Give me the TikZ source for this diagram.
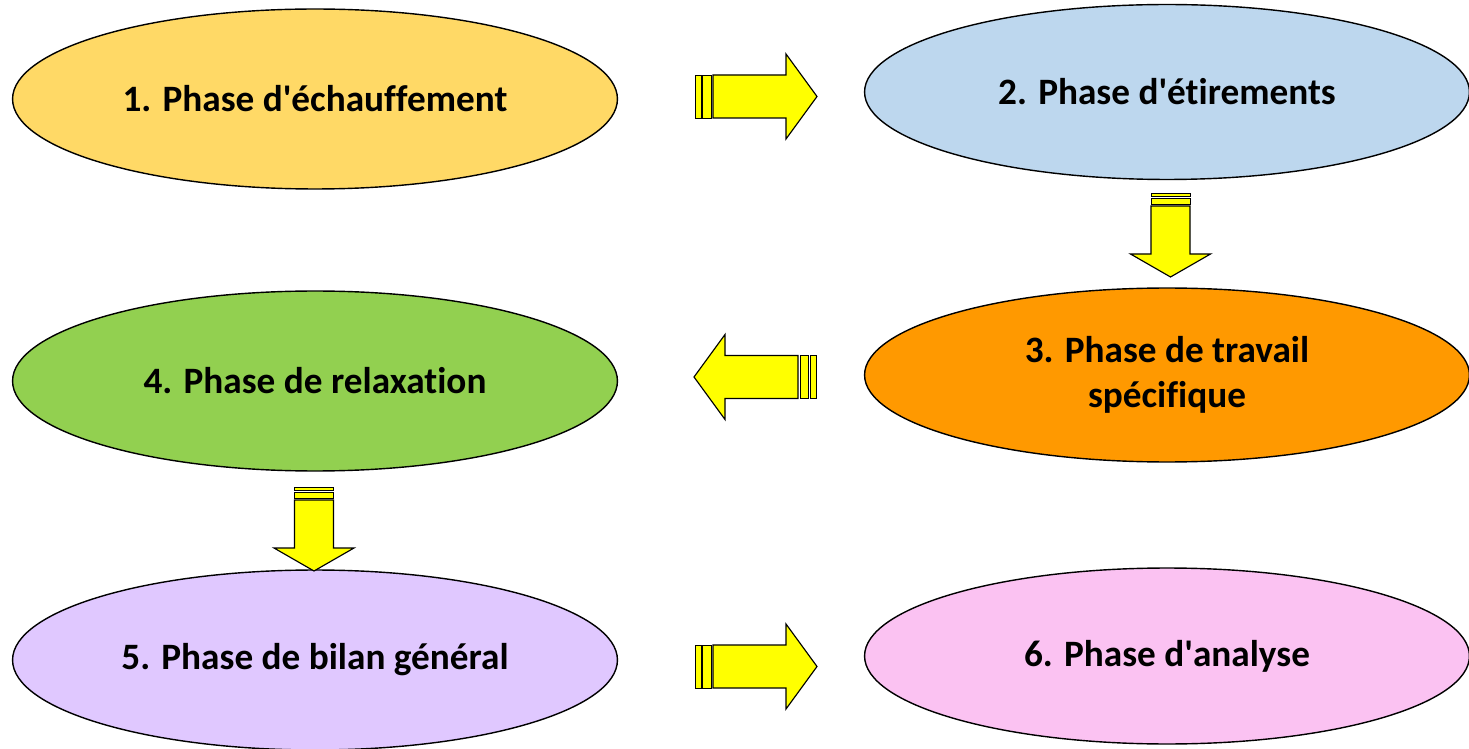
\documentclass[tikz,border=0pt]{standalone}
\usepackage{fontspec}
\setmainfont{Carlito}[Ligatures={NoCommon}]
\usepackage{tikz}
\usetikzlibrary{shapes.geometric}
\definecolor{warmup}{HTML}{FFD966}
\definecolor{stretch}{HTML}{BDD7EE}
\definecolor{work}{HTML}{FF9900}
\definecolor{relax}{HTML}{92D050}
\definecolor{review}{HTML}{E0C8FF}
\definecolor{analysis}{HTML}{FBC2F2}
\definecolor{arrowfill}{HTML}{FFFF00}
\tikzset{
  phase/.style={ellipse, draw=black, line width=0.8pt, inner sep=0pt,
    minimum width=12.1cm, minimum height=3.6cm, align=center,
    font=\fontsize{21.2}{26}\selectfont\bfseries},
  blockarrow/.style={draw=black, fill=arrowfill, line width=0.65pt, line join=miter},
  arrowbar/.style={blockarrow, line width=0.5pt}
}
% horizontal striped arrow: origin at tail, #3 = +1 right, -1 left
\newcommand{\ArrowH}[3]{%
  \begin{scope}[shift={(#1,#2)}, xscale=#3]
    \draw[arrowbar] (0,-21.5) rectangle (6,21.5);
    \draw[arrowbar] (7.5,-21.5) rectangle (16,21.5);
    \draw[blockarrow] (18,-21.5) -- (91,-21.5) -- (91,-42.5) -- (122,0)
      -- (91,42.5) -- (91,21.5) -- (18,21.5) -- cycle;
  \end{scope}
}
% vertical striped arrow: origin at top centre, pointing down
\newcommand{\ArrowV}[2]{%
  \begin{scope}[shift={(#1,#2)}]
    \draw[arrowbar] (-19.5,0) rectangle (19.5,3.5);
    \draw[arrowbar] (-19.5,5.5) rectangle (19.5,11);
    \draw[blockarrow] (-19.5,13) -- (-19.5,61) -- (-40,61) -- (0,84)
      -- (40,61) -- (19.5,61) -- (19.5,13) -- cycle;
  \end{scope}
}

\begin{document}
\begin{tikzpicture}[x=0.02cm, y=-0.02cm]
  \useasboundingbox (0,0) rectangle (1469,749);

  \node[phase, fill=warmup]   (warmup)   at (315,99)   {1. Phase d\textquotesingle échauffement};
  \node[phase, fill=stretch, minimum height=3.5cm] (stretch)  at (1167,92)  {2. Phase d\textquotesingle étirements};
  \node[phase, fill=work, minimum height=3.48cm]    (work)     at (1167,375) {3. Phase de travail\\spécifique};
  \node[phase, fill=relax]    (relax)    at (315,381)  {4. Phase de relaxation};
  \node[phase, fill=review]   (review)   at (315,660)  {5. Phase de bilan général};
  \node[phase, fill=analysis, minimum height=3.52cm] (analysis) at (1167,656) {6. Phase d\textquotesingle analyse};

  \ArrowH{695}{96.5}{1}
  \ArrowV{1170.5}{193}
  \ArrowH{816}{377}{-1}
  \ArrowV{314}{487}
  \ArrowH{695}{666.5}{1}
\end{tikzpicture}
\end{document}
